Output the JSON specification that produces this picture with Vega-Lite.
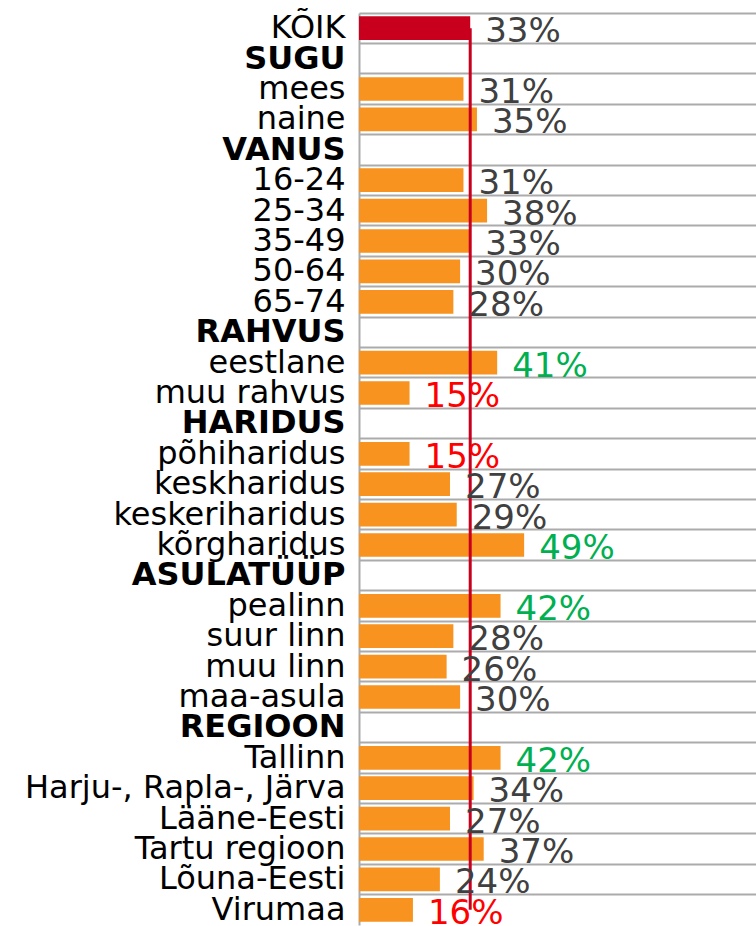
{
  "$schema": "https://vega.github.io/schema/vega-lite/v6.json",
  "width": 397,
  "height": 912,
  "autosize": {"type": "none"},
  "padding": {"left": 359, "top": 13, "right": 0, "bottom": 1},
  "config": {"font": "DejaVu Sans", "view": {"stroke": null}},
  "data": {
    "values": [
      {"cat": "KÕIK", "value": 0.33, "sig": "ns"},
      {"cat": "SUGU", "value": null, "sig": "ns"},
      {"cat": "mees", "value": 0.31, "sig": "ns"},
      {"cat": "naine", "value": 0.35, "sig": "ns"},
      {"cat": "VANUS", "value": null, "sig": "ns"},
      {"cat": "16-24", "value": 0.31, "sig": "ns"},
      {"cat": "25-34", "value": 0.38, "sig": "ns"},
      {"cat": "35-49", "value": 0.33, "sig": "ns"},
      {"cat": "50-64", "value": 0.30, "sig": "ns"},
      {"cat": "65-74", "value": 0.28, "sig": "ns"},
      {"cat": "RAHVUS", "value": null, "sig": "ns"},
      {"cat": "eestlane", "value": 0.41, "sig": "higher"},
      {"cat": "muu rahvus", "value": 0.15, "sig": "lower"},
      {"cat": "HARIDUS", "value": null, "sig": "ns"},
      {"cat": "põhiharidus", "value": 0.15, "sig": "lower"},
      {"cat": "keskharidus", "value": 0.27, "sig": "ns"},
      {"cat": "keskeriharidus", "value": 0.29, "sig": "ns"},
      {"cat": "kõrgharidus", "value": 0.49, "sig": "higher"},
      {"cat": "ASULATÜÜP", "value": null, "sig": "ns"},
      {"cat": "pealinn", "value": 0.42, "sig": "higher"},
      {"cat": "suur linn", "value": 0.28, "sig": "ns"},
      {"cat": "muu linn", "value": 0.26, "sig": "ns"},
      {"cat": "maa-asula", "value": 0.30, "sig": "ns"},
      {"cat": "REGIOON", "value": null, "sig": "ns"},
      {"cat": "Tallinn", "value": 0.42, "sig": "higher"},
      {"cat": "Harju-, Rapla-, Järva", "value": 0.34, "sig": "ns"},
      {"cat": "Lääne-Eesti", "value": 0.27, "sig": "ns"},
      {"cat": "Tartu regioon", "value": 0.37, "sig": "ns"},
      {"cat": "Lõuna-Eesti", "value": 0.24, "sig": "ns"},
      {"cat": "Virumaa", "value": 0.16, "sig": "lower"}
    ]
  },
  "encoding": {
    "y": {
      "field": "cat",
      "type": "nominal",
      "sort": null,
      "scale": {
        "domain": ["KÕIK", "SUGU", "mees", "naine", "VANUS", "16-24", "25-34", "35-49", "50-64", "65-74", "RAHVUS", "eestlane", "muu rahvus", "HARIDUS", "põhiharidus", "keskharidus", "keskeriharidus", "kõrgharidus", "ASULATÜÜP", "pealinn", "suur linn", "muu linn", "maa-asula", "REGIOON", "Tallinn", "Harju-, Rapla-, Järva", "Lääne-Eesti", "Tartu regioon", "Lõuna-Eesti", "Virumaa"],
        "paddingInner": 0,
        "paddingOuter": 0
      },
      "axis": {
        "title": null,
        "grid": true,
        "bandPosition": 0,
        "gridColor": "#ABABAB",
        "gridWidth": 2,
        "gridOpacity": 1,
        "ticks": false,
        "domain": true,
        "domainColor": "#ABABAB",
        "domainWidth": 2,
        "labelFontSize": 32,
        "labelColor": "#000000",
        "labelPadding": 14,
        "labelLimit": 400,
        "labelBaseline": "middle",
        "labelFontWeight": {
          "condition": {"test": "indexof(['SUGU','VANUS','RAHVUS','HARIDUS','ASULATÜÜP','REGIOON'], datum.label) >= 0", "value": "bold"},
          "value": "normal"
        }
      }
    }
  },
  "layer": [
    {
      "mark": {"type": "bar", "height": {"band": 0.78}},
      "encoding": {
        "x": {"field": "value", "type": "quantitative", "scale": {"domain": [0, 1.178], "nice": false}, "axis": null},
        "color": {
          "condition": {"test": "datum.cat === 'KÕIK'", "value": "#C8001E"},
          "value": "#F7931E"
        }
      }
    },
    {
      "data": {"values": [{"from": "KÕIK", "to": "Virumaa", "value": 0.33}]},
      "mark": {"type": "rule", "color": "#C8001E", "strokeWidth": 3},
      "encoding": {
        "x": {"field": "value", "type": "quantitative"},
        "y": {"field": "from", "type": "nominal"},
        "y2": {"field": "to"}
      }
    },
    {
      "mark": {"type": "text", "align": "left", "baseline": "middle", "dx": 15, "dy": 4, "fontSize": 34},
      "encoding": {
        "x": {"field": "value", "type": "quantitative"},
        "text": {"field": "value", "type": "quantitative", "format": ".0%"},
        "color": {
          "field": "sig",
          "type": "nominal",
          "scale": {"domain": ["higher", "lower", "ns"], "range": ["#00B050", "#FF0000", "#404040"]},
          "legend": null
        }
      }
    }
  ]
}
